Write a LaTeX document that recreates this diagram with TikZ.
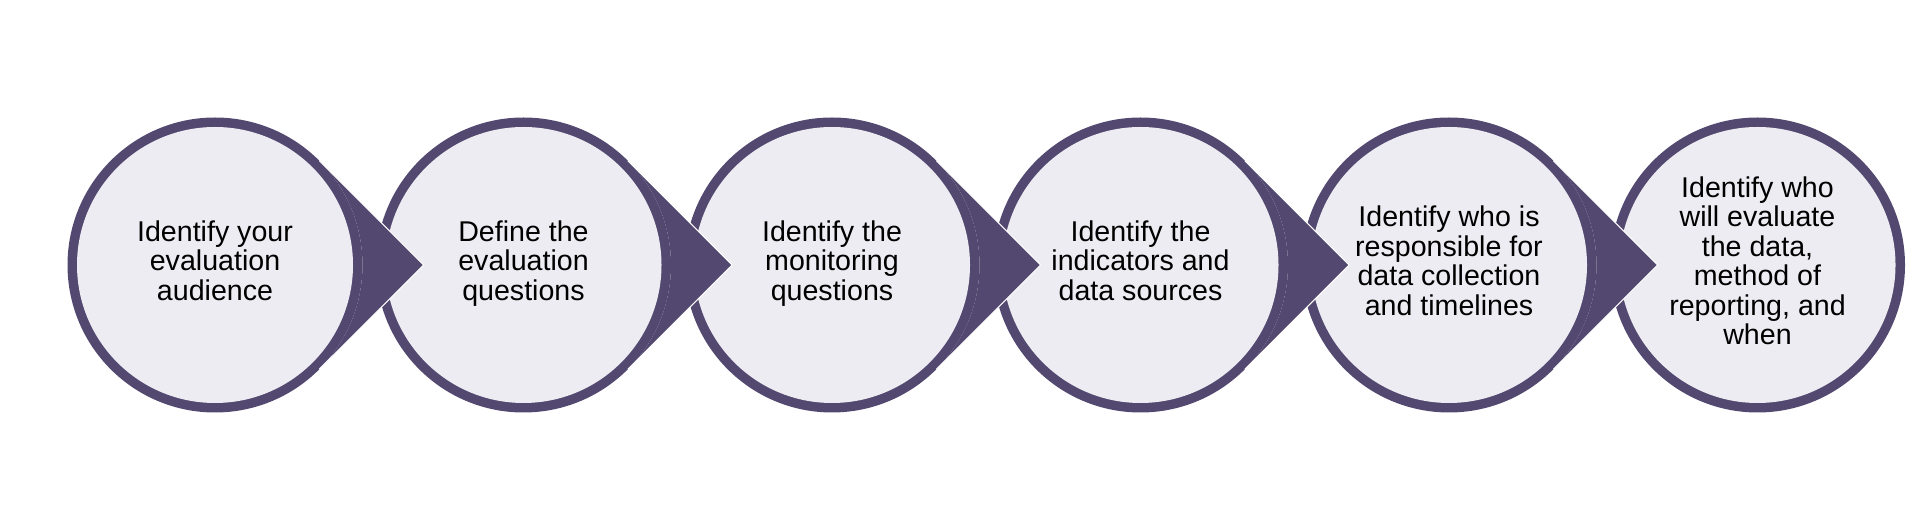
\documentclass[tikz,border=0pt]{standalone}
\usepackage{fontspec}
\setmainfont{Liberation Sans}
\usepackage{tikz}
\usetikzlibrary{positioning,calc}
\usepackage{xcolor}
\definecolor{ringpurple}{RGB}{83,73,112}
\definecolor{bodygray}{RGB}{237,236,242}

\begin{document}
\begin{tikzpicture}[
        node distance=13.5pt,
        ring/.style={circle,fill=ringpurple,minimum size=295pt,inner sep=0pt,outer sep=0pt},
        body/.style={circle,fill=bodygray,minimum size=276pt,inner sep=0pt,outer sep=0pt,align=center,
            font=\fontsize{28.6pt}{29.5pt}\selectfont,
            execute at begin node=\strut,execute at end node=\strut},
        tipfill/.style={fill=ringpurple},
        tipedge/.style={draw=white,line width=1.2pt,line join=miter}
    ]
        \useasboundingbox (0,0) rectangle (1909pt,530pt);

        \node[ring] (ring1) at (215pt,265pt) {};
        \node[ring, right=of ring1] (ring2) {};
        \node[ring, right=of ring2] (ring3) {};
        \node[ring, right=of ring3] (ring4) {};
        \node[ring, right=of ring4] (ring5) {};
        \node[ring, right=of ring5] (ring6) {};

        \node[body] (body1) at (ring1) {Identify your\\evaluation\\audience};
        \node[body] (body2) at (ring2) {Define the\\evaluation\\questions};
        \node[body] (body3) at (ring3) {Identify the\\monitoring\\questions};
        \node[body] (body4) at (ring4) {Identify the\\indicators and\\data sources};
        \node[body] (body5) at (ring5) {Identify who is\\responsible for\\data collection\\and timelines};
        \node[body] (body6) at (ring6) {Identify who\\will evaluate\\the data,\\method of\\reporting, and\\when};

        \foreach \i in {1,...,5}{
            \coordinate (tip\i) at ([xshift=208.6pt]ring\i.center);
            \fill[tipfill] (ring\i.45) -- (tip\i) -- (ring\i.-45) arc[start angle=-45,end angle=45,radius=147.5pt] -- cycle;
            \draw[tipedge] (ring\i.45) -- (tip\i) -- (ring\i.-45);
        }
    \end{tikzpicture}
\end{document}
